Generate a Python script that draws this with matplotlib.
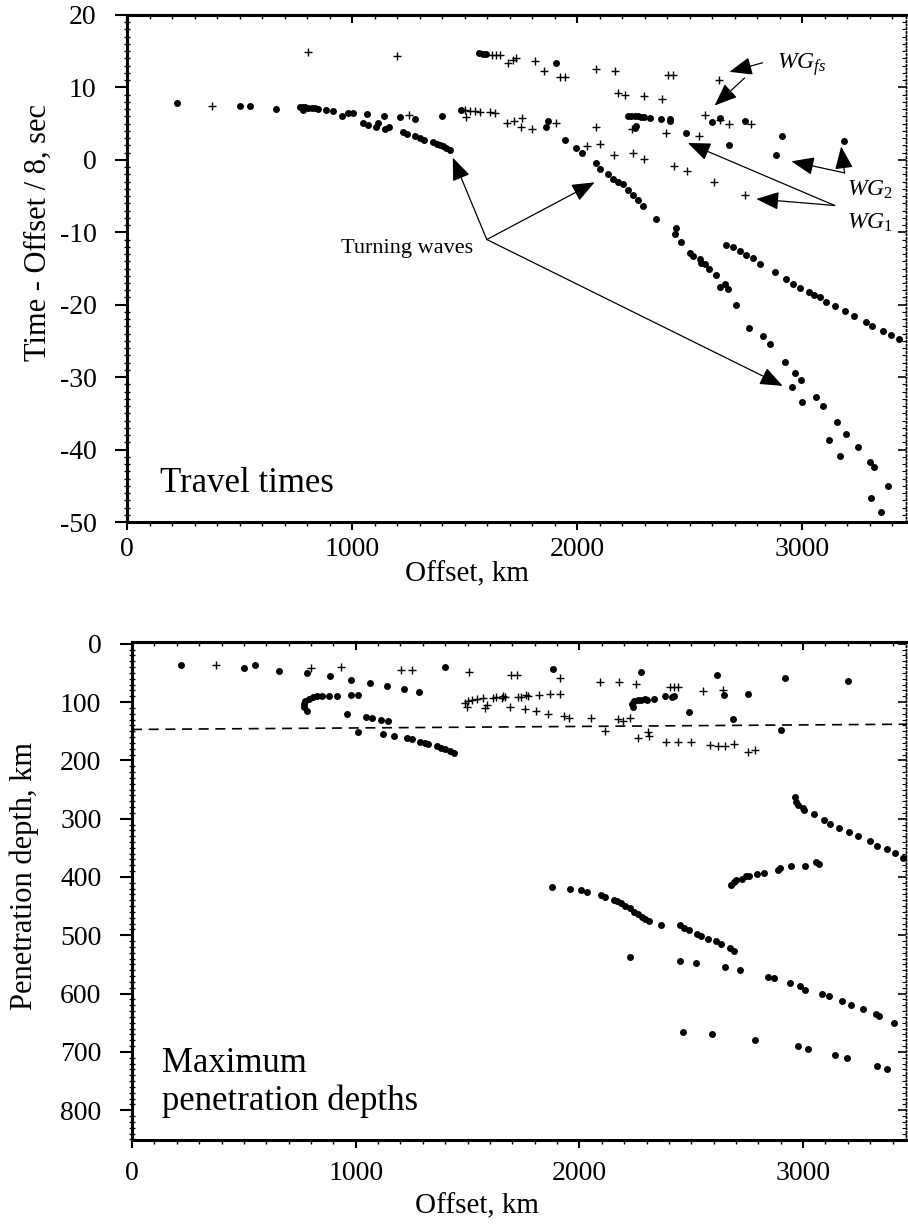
"""Travel times and maximum penetration depths vs offset (two stacked panels)."""

import matplotlib.pyplot as plt
from matplotlib.ticker import MultipleLocator

plt.rcParams["font.family"] = ["Liberation Serif", "DejaVu Serif"]
plt.rcParams["mathtext.fontset"] = "custom"
plt.rcParams["mathtext.rm"] = "Liberation Serif"
plt.rcParams["mathtext.it"] = "Liberation Serif:italic"
plt.rcParams["mathtext.bf"] = "Liberation Serif:bold"
plt.rcParams["axes.unicode_minus"] = False

# ---- top panel: reduced travel times (offset km, time - offset/8 s) ----
tt_dot_x = [222, 502, 546, 660, 768, 780, 790, 803, 820, 834, 848, 780, 883, 914,
            957, 982, 1003, 1064, 1046, 1071, 1108, 1114, 1145, 1163, 1141, 1212,
            1281, 1225, 1243, 1278, 1300, 1318, 1360, 1375, 1389, 1404, 1419, 1434,
            1397, 1485, 1564, 1581, 1596, 1904, 1870, 1863, 1947, 1996, 2023,
            2225, 2240, 2255, 2269, 2284, 2295, 2324, 2370, 2410, 2413, 2262, 2255,
            2481, 2600, 2635, 2743, 2910, 2884, 2673, 3184,
            # turning-wave branch
            2082, 2100, 2136, 2158, 2181, 2203, 2225, 2247, 2269, 2292, 2351,
            2440, 2432, 2462, 2499, 2513, 2543, 2565, 2551, 2584, 2617, 2632, 2669,
            2654, 2703, 2762, 2824, 2854, 2923, 2966, 2992, 2954, 2999, 3061, 3093,
            3153, 3194, 3120, 3169, 3246, 3298, 3316, 3382, 3305, 3350,
            # upper later branch
            2661, 2691, 2721, 2750, 2780, 2810, 2876, 2928, 2957, 2987, 3031, 3053,
            3076, 3105, 3146, 3191, 3228, 3283, 3310, 3357, 3394, 3431]
tt_dot_y = [7.8, 7.4, 7.4, 7.05, 7.3, 7.3, 7.25, 7.2, 7.15, 7.1, 7.0, 6.9, 6.9, 6.8,
            6.0, 6.4, 6.4, 6.3, 5.1, 4.85, 4.6, 5.1, 4.2, 4.6, 6.1, 5.9,
            5.7, 3.8, 3.6, 3.3, 3.0, 2.8, 2.4, 2.2, 2.05, 1.85, 1.6, 1.3,
            6.1, 6.9, 14.7, 14.6, 14.6, 13.4, 5.4, 4.6, 2.8, 1.7, 0.95,
            6.0, 6.0, 6.0, 6.0, 5.9, 5.9, 5.8, 5.7, 5.6, 5.4, 4.7, 4.4,
            3.7, 5.2, 5.8, 5.4, 3.3, 0.7, 2.0, 2.55,
            -0.5, -1.25, -2.0, -2.6, -3.1, -3.4, -4.1, -4.8, -5.5, -6.4, -8.1,
            -9.4, -10.3, -11.4, -12.8, -13.3, -13.7, -14.4, -14.2, -15.1, -15.95, -17.6, -17.8,
            -17.2, -20.1, -23.2, -24.3, -25.4, -27.9, -29.4, -30.4, -31.3, -33.4, -32.8, -34.0,
            -36.2, -37.85, -38.7, -40.9, -39.7, -41.7, -42.35, -45.0, -46.7, -48.6,
            -11.7, -12.1, -12.6, -13.2, -13.6, -14.4, -15.5, -16.5, -17.2, -17.65, -18.3, -18.6,
            -19.0, -19.6, -20.2, -20.9, -21.5, -22.4, -22.9, -23.6, -24.2, -24.8]

tt_cross_x = [377, 805, 1200, 1252, 1619, 1638, 1655, 1692, 1715, 1727, 1500, 1522,
              1545, 1567, 1611, 1633, 1505, 1686, 1718, 1756, 1752, 1799, 1811, 1852,
              1922, 1944, 2082, 2166, 2403, 2425, 2181, 2210, 2297, 2378, 2628, 2565,
              2632, 2676, 2773, 1907, 2085, 2244, 2395, 2540, 2043, 2100, 2163, 2247,
              2296, 2428, 2487, 2607, 2743]
tt_cross_y = [7.5, 14.95, 14.3, 6.2, 14.5, 14.5, 14.5, 13.4, 13.8, 14.0, 6.9, 6.8,
              6.7, 6.6, 6.6, 6.5, 5.9, 5.1, 5.4, 5.8, 4.6, 4.2, 13.7, 12.3,
              11.5, 11.4, 12.6, 12.3, 11.7, 11.7, 9.2, 9.0, 8.75, 8.4, 11.05, 6.2,
              5.5, 5.0, 5.0, 5.1, 4.5, 4.2, 3.7, 3.3, 1.85, 2.2, 0.7, 1.0,
              0.1, -0.9, -1.6, -3.1, -4.8]

# ---- bottom panel: maximum penetration depth (offset km, depth km) ----
pd_dot_x = [220, 499, 548, 659, 781, 885, 979, 1064, 1141, 1216, 1284, 1399,
            781, 771, 767, 774, 789, 808, 829, 848, 881, 915, 979, 1009,
            961, 1045, 1074, 1113, 1146,
            1009, 1124, 1171, 1228, 1250, 1287, 1309, 1324, 1362, 1381, 1399, 1421, 1439,
            1880, 2274,
            2240, 2235, 2244, 2262, 2277, 2292, 2304, 2333, 2381, 2415, 2423,
            2492, 2615, 2646, 2753, 2686, 2899, 2921, 3199,
            2964, 2969, 2976, 2998, 3006, 3048, 3092, 3122, 3162, 3207, 3244, 3300,
            3329, 3375, 3411, 3448,
            2676, 2690, 2701, 2726, 2746, 2760, 2795, 2827, 2887, 2898, 2946, 3009, 3058, 3073,
            1878, 1960, 2009, 2036, 2095, 2116, 2155, 2170, 2184, 2205, 2225, 2244,
            2262, 2280, 2295, 2309, 2366,
            2448, 2467, 2488, 2527, 2545, 2574, 2612, 2634, 2671, 2691,
            2225, 2448, 2519, 2652, 2720,
            2842, 2872, 2943, 2987, 3010, 3083, 3115, 3172, 3214, 3266, 3326, 3341, 3408,
            2463, 2592, 2786, 2976, 3024, 3143, 3195, 3330, 3374]
pd_dot_y = [37, 42, 36, 46, 50, 56, 62, 67, 72, 78, 83, 40,
            116, 109, 103, 98, 94, 92, 90, 89, 90, 89, 88, 88,
            121, 125, 128, 130, 133,
            152, 155, 158, 162, 164, 168, 171, 172, 176, 179, 181, 184, 188,
            43, 49,
            108, 103, 99, 97, 96, 95, 96, 94, 90, 92, 89,
            117, 53, 88, 86, 129, 148, 59, 64,
            262, 271, 276, 282, 285, 292, 303, 309, 316, 322, 329, 339,
            347, 352, 359, 368,
            413, 408, 406, 404, 398, 399, 395, 393, 388, 385, 382, 381, 375, 378,
            418, 421, 422, 426, 431, 435, 439, 442, 445, 450, 454, 460,
            464, 468, 472, 476, 482,
            482, 488, 491, 497, 501, 506, 510, 515, 522, 527,
            538, 544, 548, 555, 560,
            571, 574, 581, 587, 593, 600, 604, 613, 620, 627, 635, 639, 650,
            666, 670, 679, 690, 695, 706, 711, 724, 730]

pd_cross_x = [375, 800, 933, 1202, 1253, 1506, 1693, 1719,
              1496, 1488, 1503, 1518, 1540, 1570, 1585, 1577, 1615, 1629, 1652, 1667,
              1726, 1741, 1768, 1818, 1689, 1756, 1805,
              1912, 1659, 1763, 1867, 1912, 1860, 1932, 1952,
              2054, 2173, 2195, 2225, 2113, 2091, 2175, 2251, 2403, 2423, 2440,
              2262, 2307, 2311, 2388, 2440, 2500, 2582, 2619, 2649, 2693, 2753, 2787,
              2552, 2641]
pd_cross_y = [36, 41, 40, 45, 45, 49, 54, 54,
              108, 102, 99, 96, 95, 93, 105, 110, 93, 91, 93, 92,
              91, 91, 89, 88, 109, 112, 116,
              59, 90, 88, 86, 86, 121, 124, 128,
              128, 129, 132, 128, 149, 65, 65, 69, 74, 74, 74,
              162, 152, 158, 168, 169, 168, 173, 175, 175, 172, 186, 182,
              81, 79]

# dashed reference line in the depth panel
ref_x = [0, 3460]
ref_y = [147, 138]

# annotations in the travel-time panel: (start, [tips])
turning_start = (1598, -11.0)
turning_tips = [(1447, 0.3), (2077, -3.1), (2912, -31.2)]
wgfs_arrows = [((2823, 13.4), (2676, 12.15)), ((2743, 11.3), (2610, 7.5))]
wg2_start = (3187, -1.8)
wg2_tips = [(2951, -0.2), (3172, 1.85)]
wg1_start = (3143, -6.3)
wg1_tips = [(2491, 2.33), (2795, -5.4)]

XMAX = 3460


def style_axes(ax, ymajor, yminor, xpad):
    for side in ("left", "bottom", "top"):
        ax.spines[side].set_linewidth(2.2)
    ax.spines["right"].set_linewidth(1.0)
    ax.spines["right"].set_linestyle(":")
    ax.xaxis.set_major_locator(MultipleLocator(1000))
    ax.xaxis.set_minor_locator(MultipleLocator(100))
    ax.yaxis.set_major_locator(MultipleLocator(ymajor))
    ax.yaxis.set_minor_locator(MultipleLocator(yminor))
    ax.tick_params(axis="y", which="major", direction="out", length=9, width=1.5,
                   labelsize=20, pad=13)
    ax.tick_params(axis="y", which="minor", direction="inout", length=5, width=1.0)
    ax.tick_params(axis="x", which="major", direction="out", length=6, width=1.5,
                   labelsize=20, pad=xpad)
    ax.tick_params(axis="x", which="minor", direction="out", length=3, width=1.0)
    top = ax.secondary_xaxis("top")
    top.xaxis.set_major_locator(MultipleLocator(1000))
    top.xaxis.set_minor_locator(MultipleLocator(100))
    top.tick_params(which="major", direction="in", length=6, width=1.5, labeltop=False)
    top.tick_params(which="minor", direction="in", length=3, width=1.0)
    top.spines["top"].set_linewidth(2.2)
    right = ax.secondary_yaxis("right")
    right.yaxis.set_major_locator(MultipleLocator(ymajor))
    right.yaxis.set_minor_locator(MultipleLocator(yminor))
    right.tick_params(which="major", direction="in", length=6, width=1.2, labelright=False)
    right.tick_params(which="minor", direction="in", length=3, width=0.8)
    right.spines["right"].set_linewidth(1.0)
    right.spines["right"].set_linestyle(":")


def arrow(ax, start, tip):
    ax.annotate("", xy=tip, xytext=start,
                arrowprops=dict(arrowstyle="-|>,head_length=0.7,head_width=0.28",
                                mutation_scale=20, lw=0.9, color="black",
                                shrinkA=0, shrinkB=0))


fig = plt.figure(figsize=(9.08, 12.28), dpi=100)
ax1 = fig.add_axes([0.1399, 0.5749, 0.8579, 0.4129])
ax2 = fig.add_axes([0.1454, 0.0717, 0.8524, 0.4055])

# top panel
ax1.plot(tt_dot_x, tt_dot_y, "o", color="black", ms=5, mew=0)
ax1.plot(tt_cross_x, tt_cross_y, "+", color="black", ms=5.5, mew=1.0)
ax1.set_xlim(0, XMAX)
ax1.set_ylim(-50, 20)
style_axes(ax1, 10, 1, 5)
ax1.set_ylabel("Time - Offset / 8, sec", fontsize=22)
ax1.yaxis.set_label_coords(-0.095, 0.571)
ax1.set_xlabel("Offset, km", fontsize=21)
ax1.xaxis.set_label_coords(0.436, -0.078)
ax1.text(146, -45.8, "Travel times", fontsize=25, va="baseline")

ax1.text(1243, -12.2, "Turning waves", fontsize=16, ha="center", va="center")
for tip in turning_tips:
    arrow(ax1, turning_start, tip)
ax1.text(2889, 13.1, r"$\mathit{WG}_{fs}$", fontsize=17, va="center")
for start, tip in wgfs_arrows:
    arrow(ax1, start, tip)
ax1.text(3196, -4.1, r"$\mathit{WG}_{2}$", fontsize=17, va="center")
for tip in wg2_tips:
    arrow(ax1, wg2_start, tip)
ax1.text(3196, -8.65, r"$\mathit{WG}_{1}$", fontsize=17, va="center")
for tip in wg1_tips:
    arrow(ax1, wg1_start, tip)

# bottom panel
ax2.plot(pd_dot_x, pd_dot_y, "o", color="black", ms=5, mew=0)
ax2.plot(pd_cross_x, pd_cross_y, "+", color="black", ms=5.5, mew=1.0)
ax2.plot(ref_x, ref_y, "--", color="black", lw=1.2, dashes=(6, 4))
ax2.set_xlim(0, XMAX)
ax2.set_ylim(851, -3)
style_axes(ax2, 100, 10, 9)
ax2.set_ylabel("Penetration depth, km", fontsize=22)
ax2.yaxis.set_label_coords(-0.12, 0.53)
ax2.set_xlabel("Offset, km", fontsize=21)
ax2.xaxis.set_label_coords(0.446, -0.108)
ax2.text(134, 735, "Maximum", fontsize=25, va="baseline")
ax2.text(134, 800, "penetration depths", fontsize=25, va="baseline")

fig.savefig("out.png", dpi=100)
